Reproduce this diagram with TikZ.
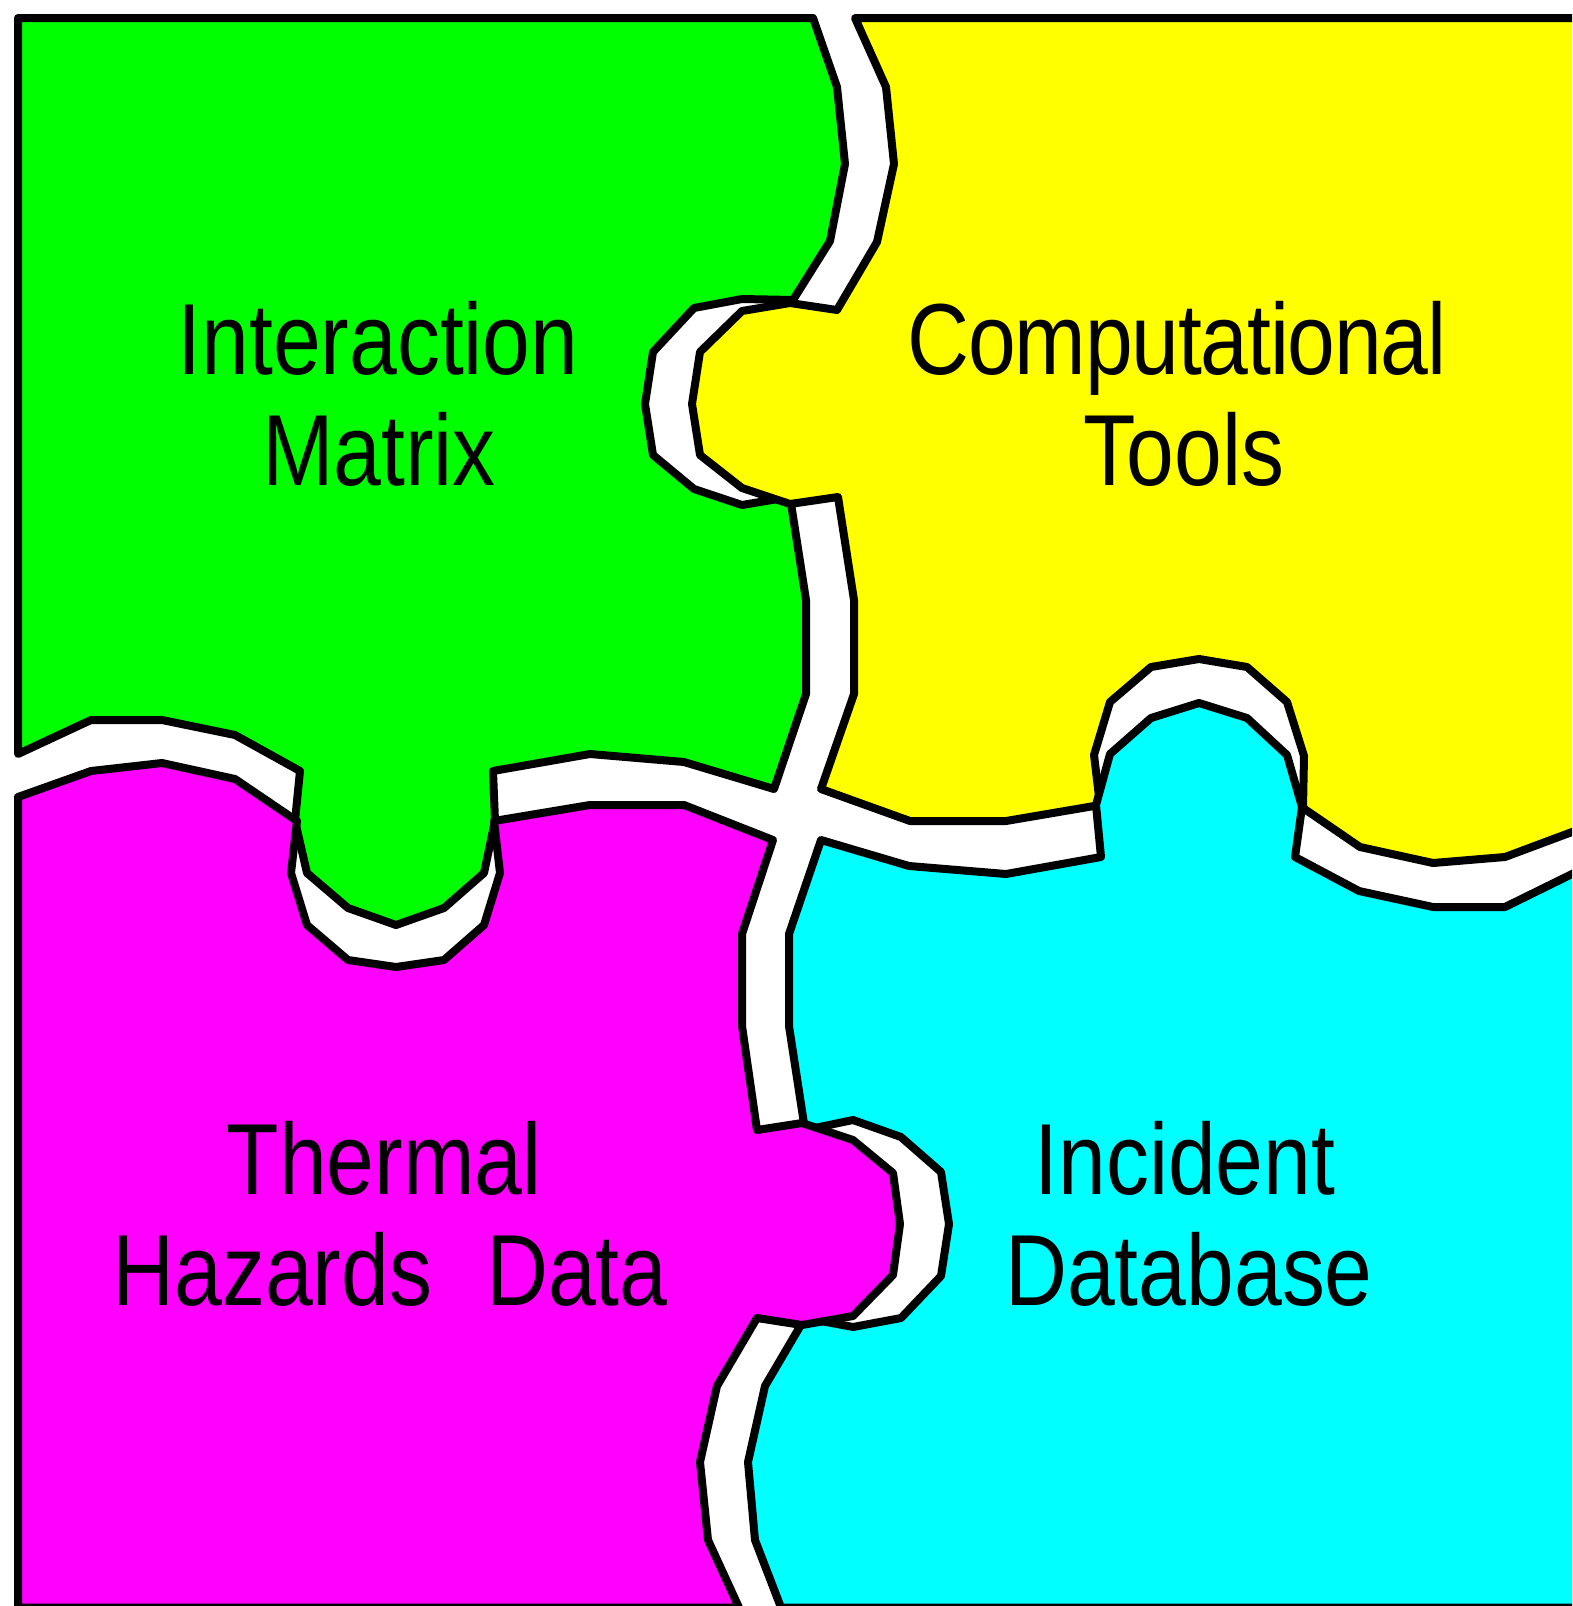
\documentclass[tikz,border=0pt]{standalone}
\usepackage{xcolor}
\usepackage{fontspec}
\usepackage{tikz}
\usetikzlibrary{positioning}

\newfontfamily\piecefont{Liberation Sans}[FakeStretch=0.85]

\definecolor{matrixgreen}{RGB}{0,255,0}
\definecolor{toolsyellow}{RGB}{255,255,0}
\definecolor{hazardmagenta}{RGB}{255,0,255}
\definecolor{incidentcyan}{RGB}{0,255,255}

\begin{document}
\begin{tikzpicture}[x=1pt, y=-1pt,
  piece/.style={draw=black, line width=8pt, line join=round},
  piecetext/.style={anchor=base, inner sep=0pt, font=\piecefont\fontsize{101}{110}\selectfont}]
\useasboundingbox (0,0) rectangle (1572,1606);
\clip (0,0) rectangle (1572,1606);
\fill[white] (0,0) rectangle (1572,1606);

% top left piece
\filldraw[piece, fill=matrixgreen] (18,18) -- (813,18) -- (837,87) -- (845,164) -- (830,241) -- (793,300)
  -- (742,299) -- (694,308) -- (653,352) -- (645,404) -- (653,455) -- (694,489) -- (742,505) -- (790,497)
  -- (806,600) -- (806,694) -- (774,789) -- (684,762) -- (590,754) -- (493,771)
  -- (495,821) -- (484,873) -- (444,908) -- (396,925) -- (348,908) -- (307,873) -- (295,821) -- (300,771)
  -- (235,735) -- (162,720) -- (91,720) -- (18,754) -- cycle;

% top right piece
\filldraw[piece, fill=toolsyellow] (855,18) -- (1600,18) -- (1600,822) -- (1572,832) -- (1505,857)
  -- (1433,863) -- (1360,847) -- (1303,808)
  -- (1304,756) -- (1287,702) -- (1247,667) -- (1199,659) -- (1151,667) -- (1110,702) -- (1094,755) -- (1100,805)
  -- (1006,821) -- (910,821) -- (821,789) -- (854,694) -- (854,600) -- (838,497)
  -- (790,504) -- (742,488) -- (700,455) -- (692,404) -- (700,352) -- (742,311) -- (790,303) -- (837,310)
  -- (877,242) -- (894,164) -- (886,87) -- cycle;

% bottom right piece
\filldraw[piece, fill=incidentcyan] (821,840) -- (909,866) -- (1006,874) -- (1101,857)
  -- (1096,805) -- (1110,754) -- (1151,718) -- (1199,703) -- (1247,718) -- (1287,755) -- (1302,807) -- (1295,857)
  -- (1359,891) -- (1433,907) -- (1505,907) -- (1572,874) -- (1600,860) -- (1600,1607.5) -- (781,1607.5)
  -- (755,1540) -- (748,1462) -- (765,1386) -- (805,1318)
  -- (853,1327) -- (901,1318) -- (941,1276) -- (949,1224) -- (941,1172) -- (901,1137) -- (853,1120) -- (805,1130)
  -- (789,1026) -- (789,934) -- cycle;

% bottom left piece
\filldraw[piece, fill=hazardmagenta] (18,797) -- (91,771) -- (162,763) -- (235,779) -- (297,821)
  -- (291,873) -- (307,925) -- (348,960) -- (396,967) -- (444,960) -- (484,925) -- (500,873) -- (494,821)
  -- (590,805) -- (684,805) -- (773,840) -- (742,934) -- (742,1026) -- (757,1130)
  -- (802,1123) -- (853,1140) -- (893,1173) -- (900,1224) -- (893,1275) -- (853,1316) -- (802,1325) -- (757,1318)
  -- (717,1386) -- (700,1462) -- (708,1540) -- (739,1607.5) -- (18,1607.5) -- cycle;

\node[piecetext](interaction) at (378,374.5) {Interaction};
\node[piecetext](matrix) at (379,485) {Matrix};
\node[piecetext](computational) at (1177,374.5) {\addfontfeatures{LetterSpace=-1.2}Computational};
\node[piecetext](tools) at (1184,485) {Tools};
\node[piecetext](thermal) at (384,1194) {Thermal};
\node[piecetext](hazards) at (390,1305) {Hazards\hspace{30pt} Data};
\node[piecetext](incident) at (1185,1194) {Incident};
\node[piecetext](database) at (1189,1305) {Database};

\end{tikzpicture}
\end{document}
